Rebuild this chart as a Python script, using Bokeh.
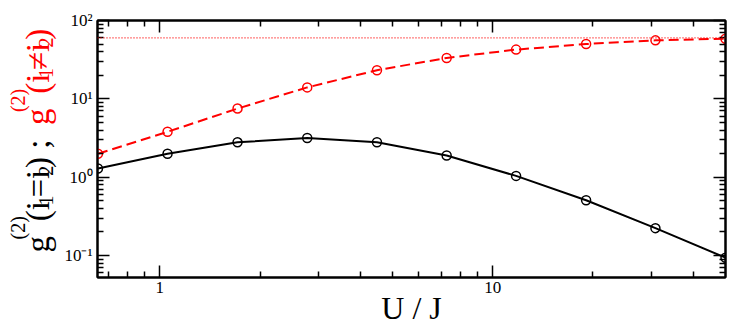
import math
from bokeh.plotting import figure
from bokeh.layouts import row
from bokeh.models import Range1d, LogAxis, FixedTicker, Span, Label, CustomJSTickFormatter
from bokeh.embed import file_html
from bokeh.resources import INLINE

# ---- data ----
U_over_J = [0.652, 1.055, 1.712, 2.772, 4.49, 7.27, 11.75, 19.07, 30.8, 50.0]
g2_same_site = [1.29, 1.99, 2.79, 3.17, 2.79, 1.89, 1.04, 0.508, 0.224, 0.094]
g2_diff_site = [1.99, 3.80, 7.52, 14.0, 23.2, 33.3, 42.5, 50.1, 55.8, 58.6]
g2_limit = 60.0

x_major_ticks = [1, 10]
x_major_labels = ["1", "10"]
x_minor_ticks = [0.7, 0.8, 0.9, 2, 3, 4, 5, 6, 7, 8, 9, 20, 30, 40]
y_major_ticks = [0.1, 1, 10, 100]
y_major_labels = ["10\u207b\u00b9", "10\u2070", "10\u00b9", "10\u00b2"]
y_minor_ticks = [0.06, 0.07, 0.08, 0.09,
                 0.2, 0.3, 0.4, 0.5, 0.6, 0.7, 0.8, 0.9,
                 2, 3, 4, 5, 6, 7, 8, 9,
                 20, 30, 40, 50, 60, 70, 80, 90]

FONT = "Liberation Serif"
TOTAL_W, H = 731, 328
LAB_W = 60                      # strip on the left that holds the y title
W = TOTAL_W - LAB_W
MB_L, MB_R, MB_T, MB_B = 97 - LAB_W, 6, 20, 50

p = figure(width=W, height=H, x_axis_type="log", y_axis_type="log",
           x_range=Range1d(0.65, 50), y_range=Range1d(0.0525, 100),
           output_backend="svg", toolbar_location=None,
           min_border_left=MB_L, min_border_right=MB_R,
           min_border_top=MB_T, min_border_bottom=MB_B)
p.grid.visible = False
p.outline_line_color = "black"
p.outline_line_width = 2
p.background_fill_color = "white"
p.border_fill_color = "white"


def style_axis(ax):
    ax.axis_line_width = 2
    ax.axis_line_color = "black"
    ax.major_tick_in = 12
    ax.major_tick_out = 0
    ax.minor_tick_in = 6
    ax.minor_tick_out = 0
    ax.major_tick_line_width = 1.5
    ax.minor_tick_line_width = 1.5
    ax.major_tick_line_color = "black"
    ax.minor_tick_line_color = "black"
    ax.major_label_text_font = FONT
    ax.major_label_text_color = "black"


xax = p.xaxis[0]
xax.ticker = FixedTicker(ticks=x_major_ticks, minor_ticks=x_minor_ticks)
xax.major_label_overrides = dict(zip(x_major_ticks, x_major_labels))
style_axis(xax)
xax.major_label_text_font_size = "17px"
xax.major_label_standoff = 4
xax.axis_label = "U / J"
xax.axis_label_text_font = FONT
xax.axis_label_text_font_size = "32px"
xax.axis_label_text_font_style = "normal"
xax.axis_label_text_color = "black"
xax.axis_label_standoff = -6

yax = p.yaxis[0]
yax.ticker = FixedTicker(ticks=y_major_ticks, minor_ticks=y_minor_ticks)
yax.major_label_overrides = dict(zip(y_major_ticks, y_major_labels))
style_axis(yax)
yax.major_label_text_font_size = "17px"
yax.major_label_standoff = 5

blank = "return ''"
top = LogAxis(ticker=FixedTicker(ticks=x_major_ticks, minor_ticks=x_minor_ticks),
              formatter=CustomJSTickFormatter(code=blank))
right = LogAxis(ticker=FixedTicker(ticks=y_major_ticks, minor_ticks=y_minor_ticks),
                formatter=CustomJSTickFormatter(code=blank))
for ax in (top, right):
    style_axis(ax)
    ax.major_label_standoff = 0
    ax.major_label_text_font_size = "1px"
p.add_layout(top, "above")
p.add_layout(right, "right")

# ---- data marks ----
p.add_layout(Span(location=g2_limit, dimension="width", line_color="red",
                  line_width=1.3, line_dash="1 2"))
p.line(U_over_J, g2_diff_site, line_color="red", line_width=2, line_dash="10 5")
p.scatter(U_over_J, g2_diff_site, marker="circle", size=9, line_color="red",
          line_width=1.5, fill_color=None)
p.line(U_over_J, g2_same_site, line_color="black", line_width=2)
p.scatter(U_over_J, g2_same_site, marker="circle", size=9, line_color="black",
          line_width=1.5, fill_color=None)

# ---- y title strip: a bare figure whose frame is the whole strip (1 unit = 1 px) ----
lab = figure(width=LAB_W, height=H, x_range=Range1d(0, LAB_W), y_range=Range1d(0, H),
             output_backend="svg", toolbar_location=None,
             x_axis_location=None, y_axis_location=None,
             min_border_left=0, min_border_right=0, min_border_top=0, min_border_bottom=0)
lab.grid.visible = False
lab.outline_line_color = None
lab.background_fill_color = "white"
lab.border_fill_color = "white"

ADV = {'g': 0.5, '(': 0.333, ')': 0.333, 'i': 0.278, '1': 0.5, '2': 0.5,
       '=': 0.564, '\u2260': 0.6, ';': 0.278, ' ': 0.25}
F, S = 33, 20
BASE, SUP, SUB = 37, 17, 45


def put(text, size, base_x, start_y, color):
    lab.add_layout(Label(x=base_x, y=H - start_y, text=text, text_font=FONT,
                         text_font_size=f"{size}px", text_font_style="normal",
                         angle=math.pi / 2, text_align="left",
                         text_baseline="alphabetic", text_color=color))
    return start_y - sum(ADV.get(c, 0.5) for c in text) * size


def put_series(pieces, start_y, color):
    y = start_y
    for text, kind in pieces:
        if kind == "sup":
            y = put(text, S, SUP, y, color)
        elif kind == "sub":
            y = put(text, S, SUB, y, color)
        else:
            y = put(text, F, BASE, y, color)
    return y


black_pieces = [("g", "n"), ("(2)", "sup"), ("(i", "n"), ("1", "sub"), ("=i", "n"),
                ("2", "sub"), (") ;", "n")]
red_pieces = [("g", "n"), ("(2)", "sup"), ("(i", "n"), ("1", "sub"), ("\u2260i", "n"),
              ("2", "sub"), (")", "n")]
end_black = put_series(black_pieces, 296, "black")
put_series(red_pieces, end_black - 0.8 * F, "red")

layout = row(lab, p, spacing=0)
open("out.html", "w").write(file_html(layout, INLINE))
